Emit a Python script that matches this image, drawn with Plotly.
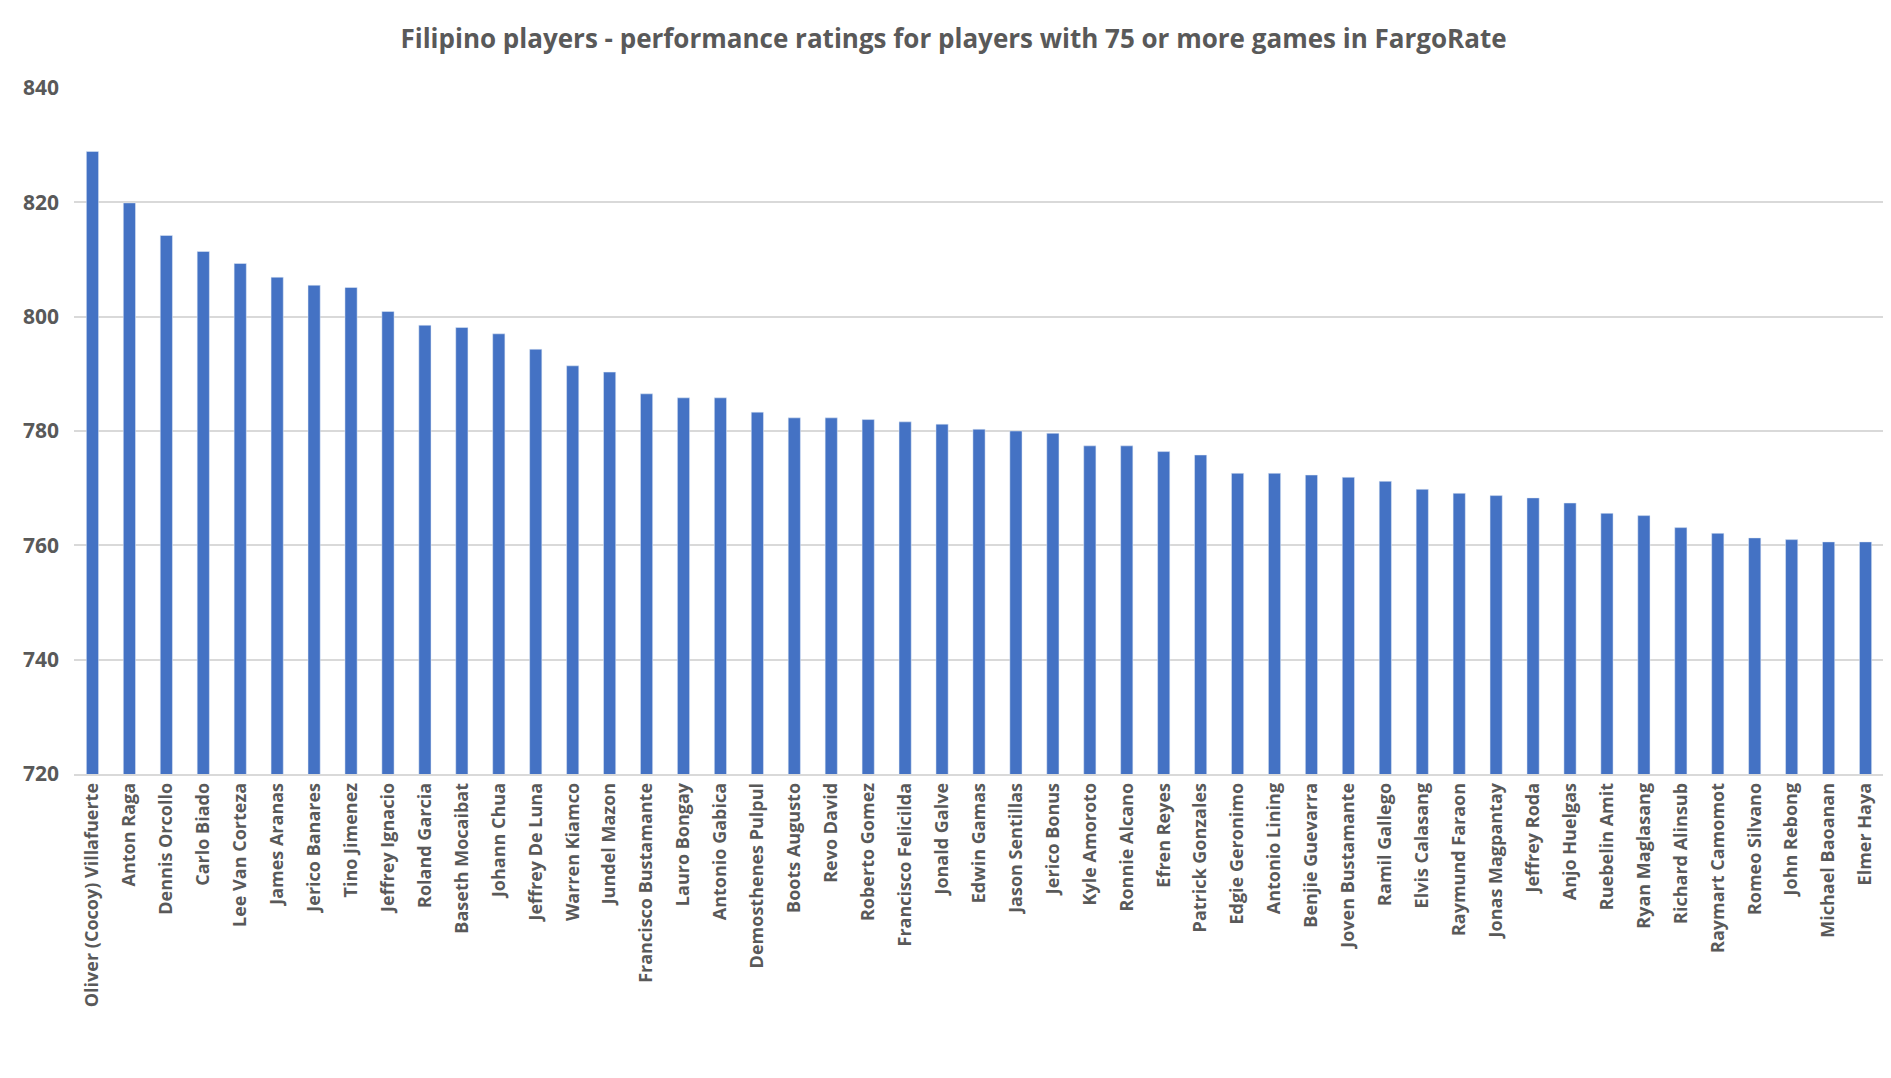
import plotly.graph_objects as go

players = ["Oliver (Cocoy) Villafuerte","Anton Raga","Dennis Orcollo","Carlo Biado","Lee Van Corteza","James Aranas","Jerico Banares","Tino Jimenez","Jeffrey Ignacio","Roland Garcia","Baseth Mocaibat","Johann Chua","Jeffrey De Luna","Warren Kiamco","Jundel Mazon","Francisco Bustamante","Lauro Bongay","Antonio Gabica","Demosthenes Pulpul","Boots Augusto","Revo David","Roberto Gomez","Francisco Felicilda","Jonald Galve","Edwin Gamas","Jason Sentillas","Jerico Bonus","Kyle Amoroto","Ronnie Alcano","Efren Reyes","Patrick Gonzales","Edgie Geronimo","Antonio Lining","Benjie Guevarra","Joven Bustamante","Ramil Gallego","Elvis Calasang","Raymund Faraon","Jonas Magpantay","Jeffrey Roda","Anjo Huelgas","Ruebelin Amit","Ryan Maglasang","Richard Alinsub","Raymart Camomot","Romeo Silvano","John Rebong","Michael Baoanan","Elmer Haya"]
ratings = [828.9,819.9,814.2,811.4,809.3,806.9,805.5,805.1,800.9,798.5,798.1,797.0,794.3,791.4,790.3,786.5,785.8,785.8,783.3,782.3,782.3,782.0,781.6,781.2,780.3,780.0,779.6,777.4,777.4,776.4,775.8,772.6,772.6,772.3,771.9,771.2,769.8,769.1,768.7,768.3,767.4,765.6,765.2,763.1,762.1,761.3,761.0,760.6,760.6]
yticks = [720,740,760,780,800,820,840]

fig = go.Figure(go.Bar(x=players, y=ratings, marker_color="#4472C4"))
font = "'Open Sans', sans-serif"
fig.update_layout(
    width=1891, height=1078, paper_bgcolor="white", plot_bgcolor="white",
    margin=dict(l=66, r=15, t=80, b=312),
    bargap=0.67, showlegend=False,
    title=dict(text="Filipino players - performance ratings for players with 75 or more games in FargoRate",
               x=0.5, xanchor="center", y=0.971, yanchor="middle",
               font=dict(family=font, size=26, color="#595959", weight="bold")),
)
fig.update_yaxes(range=[720,840], tickvals=yticks,
                 showgrid=True, gridcolor="#D9D9D9", gridwidth=1.5, zeroline=False,
                 tickfont=dict(family=font, size=21, color="#595959", weight="bold"), ticks="", ticklabelstandoff=14)
fig.update_xaxes(tickangle=-90, tickvals=players,
                 tickfont=dict(family=font, size=18, color="#595959", weight="bold"),
                 showline=True, linecolor="#D9D9D9", linewidth=1.5, ticks="")
fig.write_html("out.html")
